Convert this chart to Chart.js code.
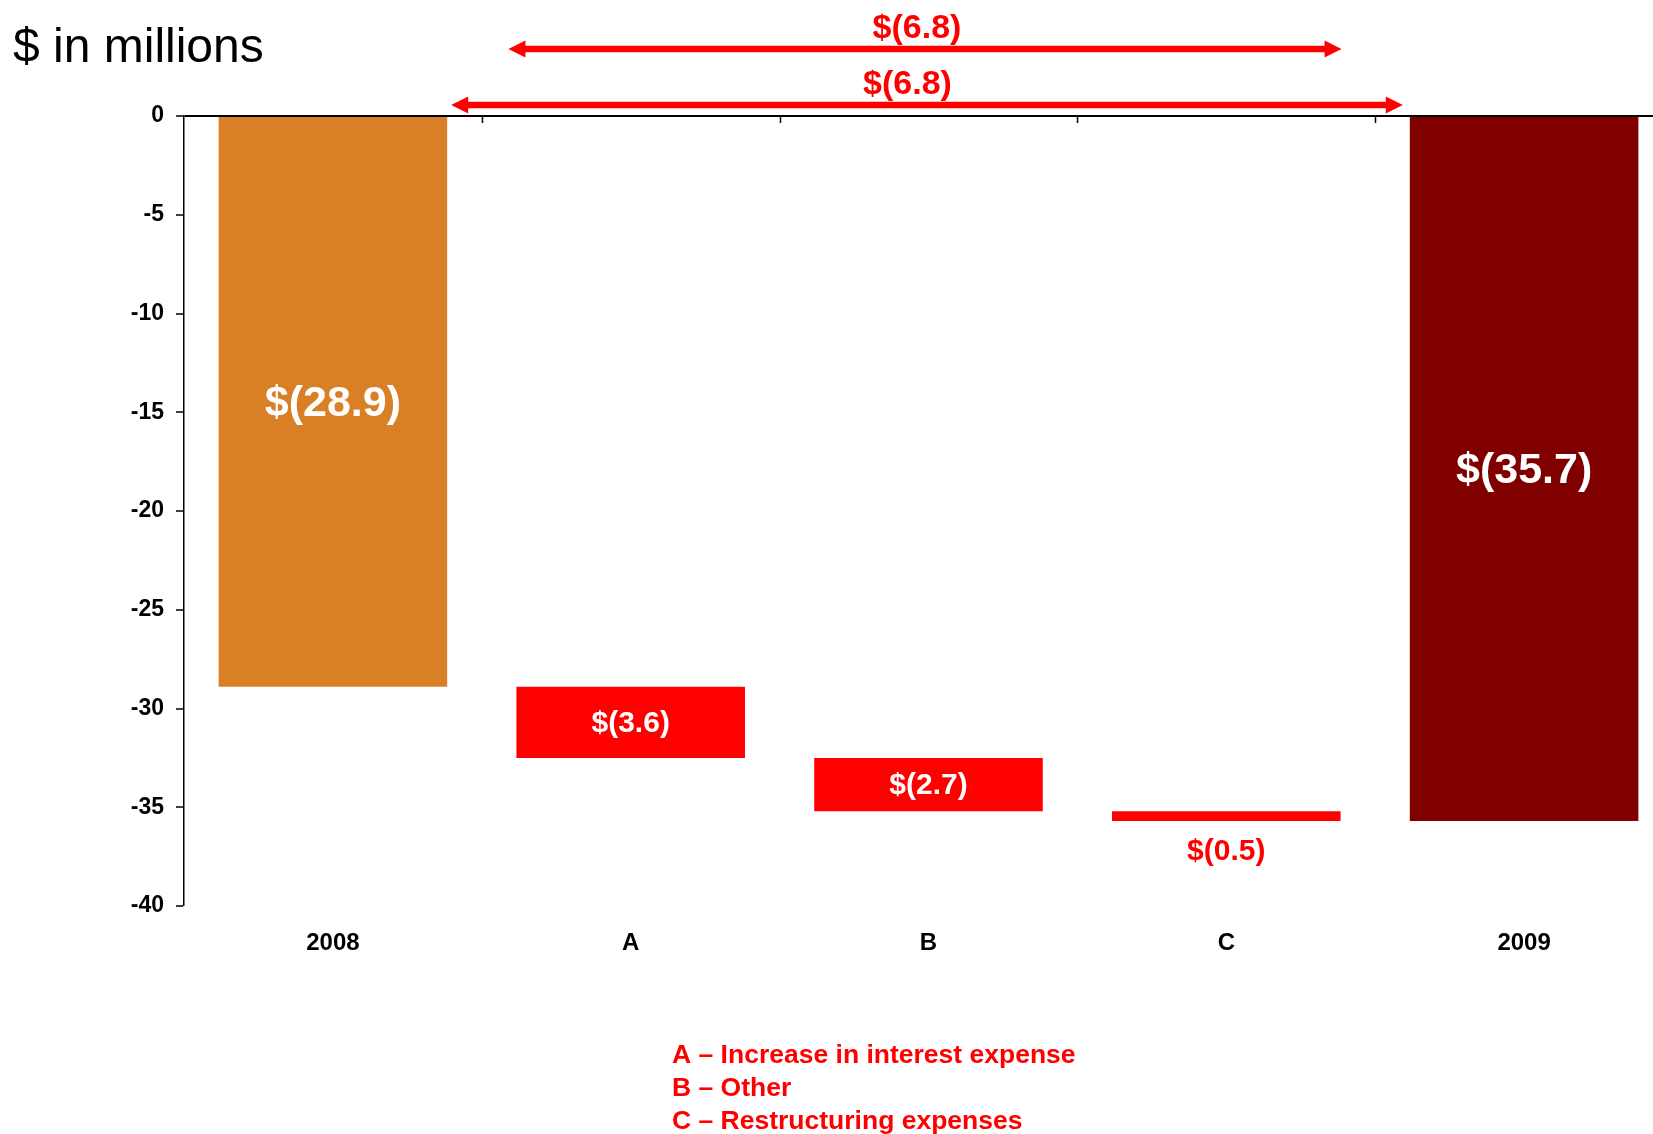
<!DOCTYPE html>
<html>
<head>
<meta charset="utf-8">
<script src="https://cdn.jsdelivr.net/npm/chart.js@4.4.1/dist/chart.umd.min.js"></script>
<style>
html, body { margin: 0; padding: 0; background: #ffffff; overflow: hidden; width: 1653px; height: 1134px; }
#wrap { position: absolute; left: 0; top: 0; width: 1700px; height: 1134px; }
canvas { display: block; }
</style>
</head>
<body>
<div id="wrap"><canvas id="c" width="1700" height="1134"></canvas></div>
<script>
// ---------------- data ----------------
const categories = ['2008', 'A', 'B', 'C', '2009'];
const changes = [-28.9, -3.6, -2.7, -0.5, -35.7];          // totals for 2008 / 2009, deltas for A, B, C
const barKinds = ['total', 'step', 'step', 'step', 'total'];
const yMin = -40;
const yMax = 0;
const yStep = 5;
const spanArrows = [
  { from: 'A', to: 'C', value: -6.8 },
  { from: '2008', to: '2009', value: -6.8 }
];
const title = '$ in millions';
const notes = ['A \u2013 Increase in interest expense', 'B \u2013 Other', 'C \u2013 Restructuring expenses'];

// ---------------- derived floating bars ----------------
let running = 0;
const floating = changes.map((v, i) => {
  if (barKinds[i] === 'total') { running = v; return [0, v]; }
  const start = running; running = running + v; return [start, running];
});

// ---------------- styles ----------------
const FONT = "'Liberation Sans', Arial, Helvetica, sans-serif";
const barColors = ['#D98027', '#FF0000', '#FF0000', '#FF0000', '#800000'];
const RED = '#FF0000';
const fmt = v => '$(' + Math.abs(v).toFixed(1) + ')';

const arrowStyle = [
  { dy: -67, leftOff: -8, rightOff: 1, labelDx: -8 },
  { dy: -11, leftOff: 4, rightOff: -7, labelDx: -19.5 }
];

const overlay = {
  id: 'overlay',
  afterDraw(chart) {
    const ctx = chart.ctx;
    const xs = chart.scales.x;
    const area = chart.chartArea;
    const meta = chart.getDatasetMeta(0);
    ctx.save();

    // tick marks on the zero line between categories
    ctx.strokeStyle = '#000';
    ctx.lineWidth = 1.5;
    for (let i = 0; i < categories.length - 1; i++) {
      const px = Math.round((xs.getPixelForValue(i) + xs.getPixelForValue(i + 1)) / 2) + 0.5;
      ctx.beginPath();
      ctx.moveTo(px, area.top);
      ctx.lineTo(px, area.top + 7);
      ctx.stroke();
    }

    // bar value labels
    meta.data.forEach((bar, i) => {
      const props = bar.getProps(['x', 'y', 'base', 'height'], true);
      const top = Math.min(props.y, props.base);
      const bot = Math.max(props.y, props.base);
      const h = bot - top;
      const isTotal = barKinds[i] === 'total';
      const size = isTotal ? 43 : 30;
      ctx.font = 'bold ' + size + 'px ' + FONT;
      ctx.textAlign = 'center';
      ctx.textBaseline = 'alphabetic';
      if (h > size) {
        ctx.fillStyle = '#FFFFFF';
        ctx.fillText(fmt(changes[i]), props.x, (top + bot) / 2 + 0.33 * size);
      } else {
        ctx.fillStyle = RED;
        ctx.fillText(fmt(changes[i]), props.x, bot + 39);
      }
    });

    // span arrows
    spanArrows.forEach((a, k) => {
      const st = arrowStyle[k];
      const i1 = categories.indexOf(a.from);
      const i2 = categories.indexOf(a.to);
      const b1 = meta.data[i1];
      const b2 = meta.data[i2];
      const x1 = (barKinds[i1] === 'total' ? b1.x + b1.width / 2 : b1.x - b1.width / 2) + st.leftOff;
      const x2 = (barKinds[i2] === 'total' ? b2.x - b2.width / 2 : b2.x + b2.width / 2) + st.rightOff;
      const y = area.top + st.dy;
      const head = 17, half = 8.5;
      ctx.fillStyle = RED;
      ctx.strokeStyle = RED;
      ctx.lineWidth = 6.5;
      ctx.beginPath();
      ctx.moveTo(x1 + head - 1, y);
      ctx.lineTo(x2 - head + 1, y);
      ctx.stroke();
      ctx.beginPath();
      ctx.moveTo(x1, y); ctx.lineTo(x1 + head, y - half); ctx.lineTo(x1 + head, y + half); ctx.closePath();
      ctx.fill();
      ctx.beginPath();
      ctx.moveTo(x2, y); ctx.lineTo(x2 - head, y - half); ctx.lineTo(x2 - head, y + half); ctx.closePath();
      ctx.fill();
      ctx.font = 'bold 34px ' + FONT;
      ctx.textAlign = 'center';
      ctx.textBaseline = 'alphabetic';
      ctx.fillText(fmt(a.value), (x1 + x2) / 2 + st.labelDx, y - 11.5);
    });

    // title
    ctx.fillStyle = '#000';
    ctx.font = '48px ' + FONT;
    ctx.textAlign = 'left';
    ctx.textBaseline = 'alphabetic';
    ctx.fillText(title, 13, 62);

    // notes
    ctx.fillStyle = RED;
    ctx.font = 'bold 26.5px ' + FONT;
    notes.forEach((t, i) => ctx.fillText(t, 672, 1063 + i * 33));

    ctx.restore();
  }
};

Chart.defaults.font.family = FONT;

new Chart(document.getElementById('c'), {
  type: 'bar',
  data: {
    labels: categories,
    datasets: [{
      data: floating,
      backgroundColor: barColors,
      borderWidth: 0,
      borderSkipped: false,
      barPercentage: 0.7675,
      categoryPercentage: 1.0
    }]
  },
  options: {
    responsive: false,
    animation: false,
    devicePixelRatio: 1,
    layout: { padding: { top: 116, left: 0, right: 27, bottom: 0 } },
    plugins: { legend: { display: false }, title: { display: false }, tooltip: { enabled: false } },
    scales: {
      x: {
        type: 'category',
        position: 'bottom',
        grid: { display: false, drawTicks: false, tickLength: 0 },
        border: { display: false },
        ticks: { color: '#000', font: { size: 24, weight: 'bold' }, padding: 23, maxRotation: 0, autoSkip: false },
        afterFit: s => { s.height = 228; }
      },
      y: {
        min: yMin,
        max: yMax,
        position: 'left',
        ticks: { stepSize: yStep, color: '#000', font: { size: 23, weight: 'bold' }, padding: 12 },
        grid: {
          drawOnChartArea: true,
          color: c => (c.tick && c.tick.value === 0 ? '#000' : 'rgba(0,0,0,0)'),
          lineWidth: c => (c.tick && c.tick.value === 0 ? 2 : 0),
          tickColor: '#000',
          tickWidth: 1.5,
          tickLength: 8
        },
        border: { display: true, color: '#000', width: 1.5 },
        afterFit: s => { s.width = 184; }
      }
    }
  },
  plugins: [overlay]
});
</script>
</body>
</html>
